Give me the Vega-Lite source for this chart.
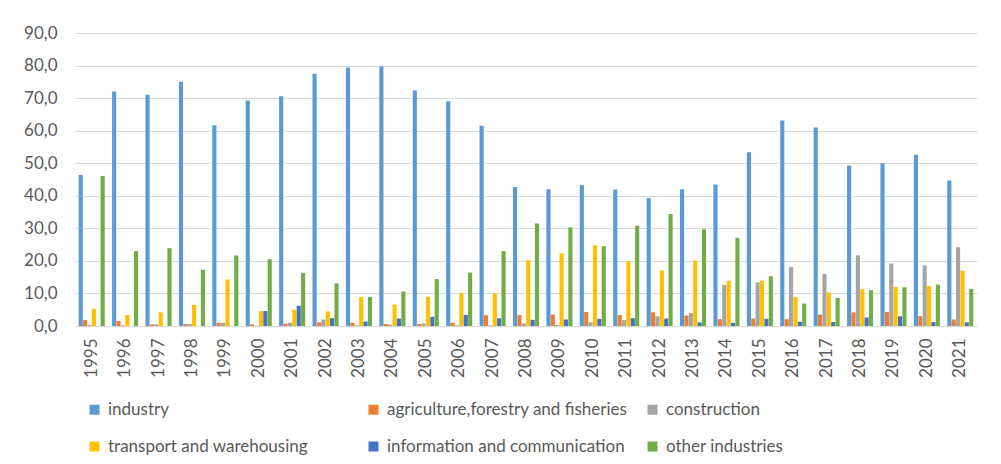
{
  "$schema": "https://vega.github.io/schema/vega-lite/v6.json",
  "autosize": {"type": "none"},
  "width": 902,
  "height": 293,
  "padding": {"left": 75, "top": 33, "right": 24, "bottom": 138},
  "background": "white",
  "config": {
    "font": "Lato",
    "view": {"stroke": null}
  },
  "data": {
    "values": [
      {"year":"1995","series":"industry","value":46.4},
      {"year":"1995","series":"agriculture,forestry and fisheries","value":1.8},
      {"year":"1995","series":"construction","value":0.3},
      {"year":"1995","series":"transport and warehousing","value":5.3},
      {"year":"1995","series":"information and communication","value":0.0},
      {"year":"1995","series":"other industries","value":46.1},
      {"year":"1996","series":"industry","value":72.0},
      {"year":"1996","series":"agriculture,forestry and fisheries","value":1.5},
      {"year":"1996","series":"construction","value":0.2},
      {"year":"1996","series":"transport and warehousing","value":3.4},
      {"year":"1996","series":"information and communication","value":0.0},
      {"year":"1996","series":"other industries","value":23.0},
      {"year":"1997","series":"industry","value":71.0},
      {"year":"1997","series":"agriculture,forestry and fisheries","value":0.5},
      {"year":"1997","series":"construction","value":0.5},
      {"year":"1997","series":"transport and warehousing","value":4.2},
      {"year":"1997","series":"information and communication","value":0.0},
      {"year":"1997","series":"other industries","value":23.9},
      {"year":"1998","series":"industry","value":75.0},
      {"year":"1998","series":"agriculture,forestry and fisheries","value":0.6},
      {"year":"1998","series":"construction","value":0.6},
      {"year":"1998","series":"transport and warehousing","value":6.5},
      {"year":"1998","series":"information and communication","value":0.0},
      {"year":"1998","series":"other industries","value":17.3},
      {"year":"1999","series":"industry","value":61.7},
      {"year":"1999","series":"agriculture,forestry and fisheries","value":1.0},
      {"year":"1999","series":"construction","value":1.0},
      {"year":"1999","series":"transport and warehousing","value":14.3},
      {"year":"1999","series":"information and communication","value":0.0},
      {"year":"1999","series":"other industries","value":21.7},
      {"year":"2000","series":"industry","value":69.3},
      {"year":"2000","series":"agriculture,forestry and fisheries","value":0.5},
      {"year":"2000","series":"construction","value":0.1},
      {"year":"2000","series":"transport and warehousing","value":4.6},
      {"year":"2000","series":"information and communication","value":4.6},
      {"year":"2000","series":"other industries","value":20.5},
      {"year":"2001","series":"industry","value":70.6},
      {"year":"2001","series":"agriculture,forestry and fisheries","value":0.7},
      {"year":"2001","series":"construction","value":1.0},
      {"year":"2001","series":"transport and warehousing","value":5.0},
      {"year":"2001","series":"information and communication","value":6.2},
      {"year":"2001","series":"other industries","value":16.3},
      {"year":"2002","series":"industry","value":77.5},
      {"year":"2002","series":"agriculture,forestry and fisheries","value":1.1},
      {"year":"2002","series":"construction","value":2.0},
      {"year":"2002","series":"transport and warehousing","value":4.5},
      {"year":"2002","series":"information and communication","value":2.4},
      {"year":"2002","series":"other industries","value":13.1},
      {"year":"2003","series":"industry","value":79.4},
      {"year":"2003","series":"agriculture,forestry and fisheries","value":1.0},
      {"year":"2003","series":"construction","value":0.2},
      {"year":"2003","series":"transport and warehousing","value":8.9},
      {"year":"2003","series":"information and communication","value":1.4},
      {"year":"2003","series":"other industries","value":8.9},
      {"year":"2004","series":"industry","value":79.7},
      {"year":"2004","series":"agriculture,forestry and fisheries","value":0.6},
      {"year":"2004","series":"construction","value":0.4},
      {"year":"2004","series":"transport and warehousing","value":6.6},
      {"year":"2004","series":"information and communication","value":2.3},
      {"year":"2004","series":"other industries","value":10.6},
      {"year":"2005","series":"industry","value":72.3},
      {"year":"2005","series":"agriculture,forestry and fisheries","value":0.6},
      {"year":"2005","series":"construction","value":0.8},
      {"year":"2005","series":"transport and warehousing","value":9.0},
      {"year":"2005","series":"information and communication","value":2.8},
      {"year":"2005","series":"other industries","value":14.4},
      {"year":"2006","series":"industry","value":69.0},
      {"year":"2006","series":"agriculture,forestry and fisheries","value":1.0},
      {"year":"2006","series":"construction","value":0.2},
      {"year":"2006","series":"transport and warehousing","value":10.2},
      {"year":"2006","series":"information and communication","value":3.4},
      {"year":"2006","series":"other industries","value":16.4},
      {"year":"2007","series":"industry","value":61.5},
      {"year":"2007","series":"agriculture,forestry and fisheries","value":3.3},
      {"year":"2007","series":"construction","value":0.2},
      {"year":"2007","series":"transport and warehousing","value":10.0},
      {"year":"2007","series":"information and communication","value":2.4},
      {"year":"2007","series":"other industries","value":23.0},
      {"year":"2008","series":"industry","value":42.7},
      {"year":"2008","series":"agriculture,forestry and fisheries","value":3.4},
      {"year":"2008","series":"construction","value":0.8},
      {"year":"2008","series":"transport and warehousing","value":20.2},
      {"year":"2008","series":"information and communication","value":1.9},
      {"year":"2008","series":"other industries","value":31.5},
      {"year":"2009","series":"industry","value":42.0},
      {"year":"2009","series":"agriculture,forestry and fisheries","value":3.5},
      {"year":"2009","series":"construction","value":0.3},
      {"year":"2009","series":"transport and warehousing","value":22.3},
      {"year":"2009","series":"information and communication","value":2.0},
      {"year":"2009","series":"other industries","value":30.3},
      {"year":"2010","series":"industry","value":43.3},
      {"year":"2010","series":"agriculture,forestry and fisheries","value":4.3},
      {"year":"2010","series":"construction","value":1.1},
      {"year":"2010","series":"transport and warehousing","value":24.8},
      {"year":"2010","series":"information and communication","value":2.2},
      {"year":"2010","series":"other industries","value":24.5},
      {"year":"2011","series":"industry","value":41.9},
      {"year":"2011","series":"agriculture,forestry and fisheries","value":3.4},
      {"year":"2011","series":"construction","value":1.8},
      {"year":"2011","series":"transport and warehousing","value":19.9},
      {"year":"2011","series":"information and communication","value":2.4},
      {"year":"2011","series":"other industries","value":30.8},
      {"year":"2012","series":"industry","value":39.3},
      {"year":"2012","series":"agriculture,forestry and fisheries","value":4.2},
      {"year":"2012","series":"construction","value":3.0},
      {"year":"2012","series":"transport and warehousing","value":17.1},
      {"year":"2012","series":"information and communication","value":2.3},
      {"year":"2012","series":"other industries","value":34.4},
      {"year":"2013","series":"industry","value":42.0},
      {"year":"2013","series":"agriculture,forestry and fisheries","value":3.2},
      {"year":"2013","series":"construction","value":4.0},
      {"year":"2013","series":"transport and warehousing","value":20.1},
      {"year":"2013","series":"information and communication","value":1.1},
      {"year":"2013","series":"other industries","value":29.7},
      {"year":"2014","series":"industry","value":43.5},
      {"year":"2014","series":"agriculture,forestry and fisheries","value":2.1},
      {"year":"2014","series":"construction","value":12.6},
      {"year":"2014","series":"transport and warehousing","value":13.9},
      {"year":"2014","series":"information and communication","value":1.0},
      {"year":"2014","series":"other industries","value":27.1},
      {"year":"2015","series":"industry","value":53.4},
      {"year":"2015","series":"agriculture,forestry and fisheries","value":2.3},
      {"year":"2015","series":"construction","value":13.4},
      {"year":"2015","series":"transport and warehousing","value":13.9},
      {"year":"2015","series":"information and communication","value":2.2},
      {"year":"2015","series":"other industries","value":15.3},
      {"year":"2016","series":"industry","value":63.1},
      {"year":"2016","series":"agriculture,forestry and fisheries","value":2.1},
      {"year":"2016","series":"construction","value":18.1},
      {"year":"2016","series":"transport and warehousing","value":8.9},
      {"year":"2016","series":"information and communication","value":1.3},
      {"year":"2016","series":"other industries","value":6.9},
      {"year":"2017","series":"industry","value":61.0},
      {"year":"2017","series":"agriculture,forestry and fisheries","value":3.5},
      {"year":"2017","series":"construction","value":16.0},
      {"year":"2017","series":"transport and warehousing","value":10.3},
      {"year":"2017","series":"information and communication","value":1.2},
      {"year":"2017","series":"other industries","value":8.6},
      {"year":"2018","series":"industry","value":49.3},
      {"year":"2018","series":"agriculture,forestry and fisheries","value":4.2},
      {"year":"2018","series":"construction","value":21.7},
      {"year":"2018","series":"transport and warehousing","value":11.3},
      {"year":"2018","series":"information and communication","value":2.6},
      {"year":"2018","series":"other industries","value":11.0},
      {"year":"2019","series":"industry","value":50.0},
      {"year":"2019","series":"agriculture,forestry and fisheries","value":4.3},
      {"year":"2019","series":"construction","value":19.2},
      {"year":"2019","series":"transport and warehousing","value":12.0},
      {"year":"2019","series":"information and communication","value":3.0},
      {"year":"2019","series":"other industries","value":11.9},
      {"year":"2020","series":"industry","value":52.6},
      {"year":"2020","series":"agriculture,forestry and fisheries","value":3.0},
      {"year":"2020","series":"construction","value":18.6},
      {"year":"2020","series":"transport and warehousing","value":12.3},
      {"year":"2020","series":"information and communication","value":1.2},
      {"year":"2020","series":"other industries","value":12.7},
      {"year":"2021","series":"industry","value":44.7},
      {"year":"2021","series":"agriculture,forestry and fisheries","value":2.0},
      {"year":"2021","series":"construction","value":24.2},
      {"year":"2021","series":"transport and warehousing","value":17.0},
      {"year":"2021","series":"information and communication","value":1.1},
      {"year":"2021","series":"other industries","value":11.4}
    ]
  },
  "mark": {"type": "bar"},
  "encoding": {
    "x": {
      "field": "year",
      "type": "nominal",
      "scale": {"paddingInner": 0.22, "paddingOuter": 0.11},
      "axis": {
        "title": null,
        "labelAngle": -90,
        "labelFontSize": 17,
        "labelColor": "#595959",
        "labelPadding": 12,
        "ticks": false,
        "domainColor": "#d9d9d9",
        "domainWidth": 1
      }
    },
    "xOffset": {
      "field": "series",
      "type": "nominal",
      "sort": ["industry", "agriculture,forestry and fisheries", "construction", "transport and warehousing", "information and communication", "other industries"],
      "scale": {"paddingInner": 0.06}
    },
    "y": {
      "field": "value",
      "type": "quantitative",
      "scale": {"domain": [0, 90], "nice": false},
      "axis": {
        "title": null,
        "values": [0, 10, 20, 30, 40, 50, 60, 70, 80, 90],
        "labelExpr": "replace(format(datum.value, '.1f'), '.', ',')",
        "labelFontSize": 17,
        "labelColor": "#595959",
        "labelPadding": 18,
        "ticks": false,
        "domain": false,
        "gridColor": "#d9d9d9",
        "gridWidth": 1
      }
    },
    "color": {
      "field": "series",
      "type": "nominal",
      "scale": {
        "domain": ["industry", "agriculture,forestry and fisheries", "construction", "transport and warehousing", "information and communication", "other industries"],
        "range": ["#5B9BD5", "#ED7D31", "#A5A5A5", "#FFC000", "#4472C4", "#70AD47"]
      },
      "legend": {
        "title": null,
        "orient": "none",
        "legendX": 11,
        "legendY": 368,
        "direction": "horizontal",
        "columns": 3,
        "gridAlign": "all",
        "columnPadding": 16,
        "rowPadding": 19,
        "symbolType": "square",
        "symbolSize": 100,
        "symbolStrokeWidth": 0,
        "labelOffset": 5,
        "labelFontSize": 17,
        "labelColor": "#595959",
        "labelLimit": 400,
        "labelExpr": "indexof(['agriculture,forestry and fisheries','construction','transport and warehousing'], datum.label) >= 0 ? '\u00a0' + datum.label : datum.label"
      }
    }
  }
}
